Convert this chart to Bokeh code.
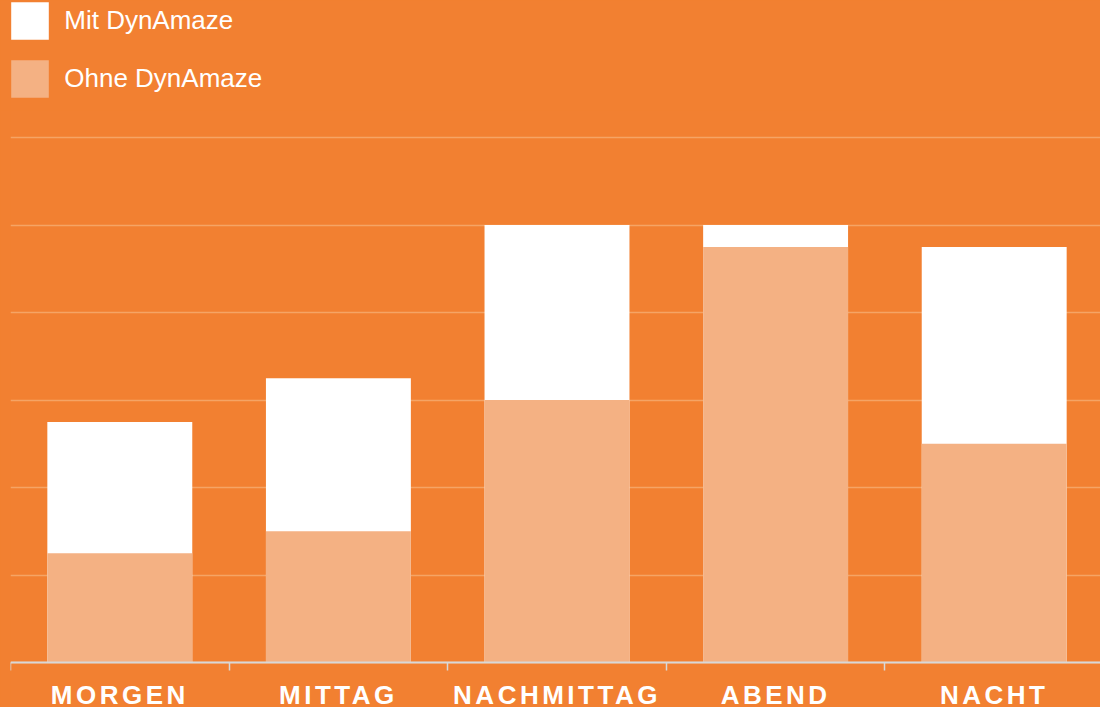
from bokeh.plotting import figure
from bokeh.models import (ColumnDataSource, FixedTicker, SingleIntervalTicker,
                          Legend, LegendItem, Range1d, LabelSet)
from bokeh.core.properties import value
from bokeh.layouts import column
from bokeh.embed import file_html
from bokeh.resources import INLINE

# ---- data ----
categories = ["MORGEN", "MITTAG", "NACHMITTAG", "ABEND", "NACHT"]
mit_dynamaze = [27.5, 32.5, 50.0, 50.0, 47.5]
ohne_dynamaze = [12.5, 15.0, 30.0, 47.5, 25.0]
series_labels = ["Mit DynAmaze", "Ohne DynAmaze"]

# ---- style ----
BG = "#F28031"
WHITE = "#FFFFFF"
LIGHT = "#F4B183"
GRID = "#F5A465"
AXIS = "#D8D8D8"
FONT = "Liberation Sans"
LS = 3.5  # letter spacing of the category labels, px
PX_PER_UNIT = 8.75

n = len(categories)
x_pos = [i + 0.5 for i in range(n)]
src = ColumnDataSource(dict(
    x=x_pos, cat=categories, mit=mit_dynamaze, ohne=ohne_dynamaze,
    y0=[0] * n,
    xoff=[-len(c) * LS / 2 for c in categories],
))

# ---- legend strip ----
leg = figure(width=1100, height=110, output_backend="svg", toolbar_location=None,
             x_range=(100, 101), y_range=(100, 101), min_border=0,
             background_fill_color=BG, border_fill_color=BG, outline_line_color=None)
leg.axis.visible = False
leg.grid.visible = False
r_mit = leg.vbar(x="x", top="mit", width=0.5, source=src, fill_color=WHITE, line_color=None)
r_ohne = leg.vbar(x="x", top="ohne", width=0.5, source=src, fill_color=LIGHT, line_color=None)
legend = Legend(items=[LegendItem(label=series_labels[0], renderers=[r_mit], index=0),
                       LegendItem(label=series_labels[1], renderers=[r_ohne], index=0)],
                location=(-3.75, 8.25), orientation="vertical",
                glyph_width=47, glyph_height=47, spacing=11, padding=0, margin=0,
                label_standoff=11, label_text_color=WHITE, label_text_font=FONT,
                label_text_font_size="26px", border_line_color=None,
                background_fill_alpha=0)
leg.add_layout(legend, "center")

# ---- main chart ----
p = figure(frame_width=1090, frame_height=597, output_backend="svg", toolbar_location=None,
           x_range=Range1d(0, 1090 / 218.6),
           y_range=Range1d(-45 / PX_PER_UNIT, 552 / PX_PER_UNIT),
           min_border_left=10, min_border_right=0, min_border_top=0, min_border_bottom=0,
           background_fill_color=BG, border_fill_color=BG, outline_line_color=None,
           styles={"letter-spacing": f"{LS}px"})

p.vbar(x="x", top="mit", width=0.663, source=src, fill_color=WHITE, line_color=None)
p.vbar(x="x", top="ohne", width=0.663, source=src, fill_color=LIGHT, line_color=None)

p.yaxis.visible = False
p.xgrid.visible = False
p.ygrid.ticker = SingleIntervalTicker(interval=10)
p.ygrid.grid_line_color = GRID
p.ygrid.grid_line_width = 1.5

xa = p.xaxis[0]
xa.fixed_location = 0
xa.ticker = FixedTicker(ticks=[], minor_ticks=list(range(n + 1)))
xa.major_tick_out = 0
xa.major_tick_in = 0
xa.minor_tick_out = 8
xa.minor_tick_in = 0
xa.minor_tick_line_color = AXIS
xa.minor_tick_line_width = 1.5
xa.axis_line_color = AXIS
xa.axis_line_width = 2

labels = LabelSet(x="x", y="y0", text="cat", source=src, x_offset="xoff", y_offset=-41,
                  text_align="center", text_baseline="alphabetic",
                  text_color=WHITE, text_font=value(FONT), text_font_style="bold",
                  text_font_size="26px")
p.add_layout(labels)

layout = column(leg, p, spacing=0, styles={"background-color": BG})
open("out.html", "w").write(file_html(layout, INLINE))
